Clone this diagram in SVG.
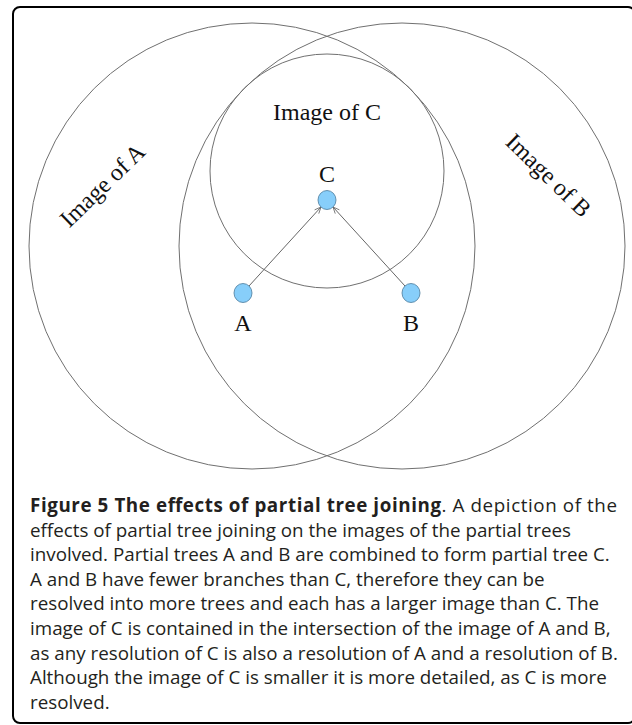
<svg xmlns="http://www.w3.org/2000/svg" width="632" height="725" viewBox="0 0 632 725">
<style>
.ring{fill:none;stroke:#707070;stroke-width:1}
.node{fill:#87cefa;stroke:#4a7a9a;stroke-width:0.8}
.lbl{font-family:"Liberation Serif","Times New Roman",serif;font-size:24px;fill:#111}
.edge{stroke:#666;stroke-width:1;fill:none}
.cap{font-family:"Open Sans","Noto Sans",sans-serif;font-size:18.8px;fill:#231f20}
.capb{font-weight:bold}
</style>
<defs>
<marker id="arr" viewBox="0 0 10 10" refX="9" refY="5" markerWidth="8" markerHeight="8" orient="auto" markerUnits="userSpaceOnUse">
<path d="M1,1.5 L9,5 L1,8.5" fill="none" stroke="#666" stroke-width="1"/>
</marker>
</defs>
<rect x="13" y="7" width="622" height="716" rx="7" fill="#fff" stroke="#000" stroke-width="2"/>
<g id="imageA"><circle class="ring" cx="252" cy="246" r="223"/><text class="lbl" transform="translate(108,191) rotate(-44)" text-anchor="middle">Image of A</text></g>
<g id="imageB"><circle class="ring" cx="402" cy="246" r="223"/><text class="lbl" transform="translate(543,181) rotate(44)" text-anchor="middle">Image of B</text></g>
<g id="imageC"><circle class="ring" cx="327" cy="171" r="117"/><text class="lbl" x="327" y="120" text-anchor="middle">Image of C</text></g>
<g id="connectors">
<line class="edge" x1="249" y1="286" x2="321" y2="207" marker-end="url(#arr)"/>
<line class="edge" x1="405" y1="286" x2="333" y2="207" marker-end="url(#arr)"/>
</g>
<g id="nodeC"><ellipse class="node" cx="327" cy="200" rx="9" ry="9.5"/><text class="lbl" x="327" y="182" text-anchor="middle">C</text></g>
<g id="nodeA"><ellipse class="node" cx="243" cy="293" rx="9" ry="9.5"/><text class="lbl" x="243" y="331" text-anchor="middle">A</text></g>
<g id="nodeB"><ellipse class="node" cx="411" cy="293" rx="9" ry="9.5"/><text class="lbl" x="411" y="331" text-anchor="middle">B</text></g>
<g id="caption" class="cap">
<text x="30" y="512" textLength="587"><tspan class="capb">Figure 5 The effects of partial tree joining</tspan>. A depiction of the</text>
<text x="30" y="536.6">effects of partial tree joining on the images of the partial trees</text>
<text x="30" y="561.2">involved. Partial trees A and B are combined to form partial tree C.</text>
<text x="30" y="585.8">A and B have fewer branches than C, therefore they can be</text>
<text x="30" y="610.4">resolved into more trees and each has a larger image than C. The</text>
<text x="30" y="635">image of C is contained in the intersection of the image of A and B,</text>
<text x="30" y="659.6">as any resolution of C is also a resolution of A and a resolution of B.</text>
<text x="30" y="684.2">Although the image of C is smaller it is more detailed, as C is more</text>
<text x="30" y="708.8">resolved.</text>
</g>
</svg>
